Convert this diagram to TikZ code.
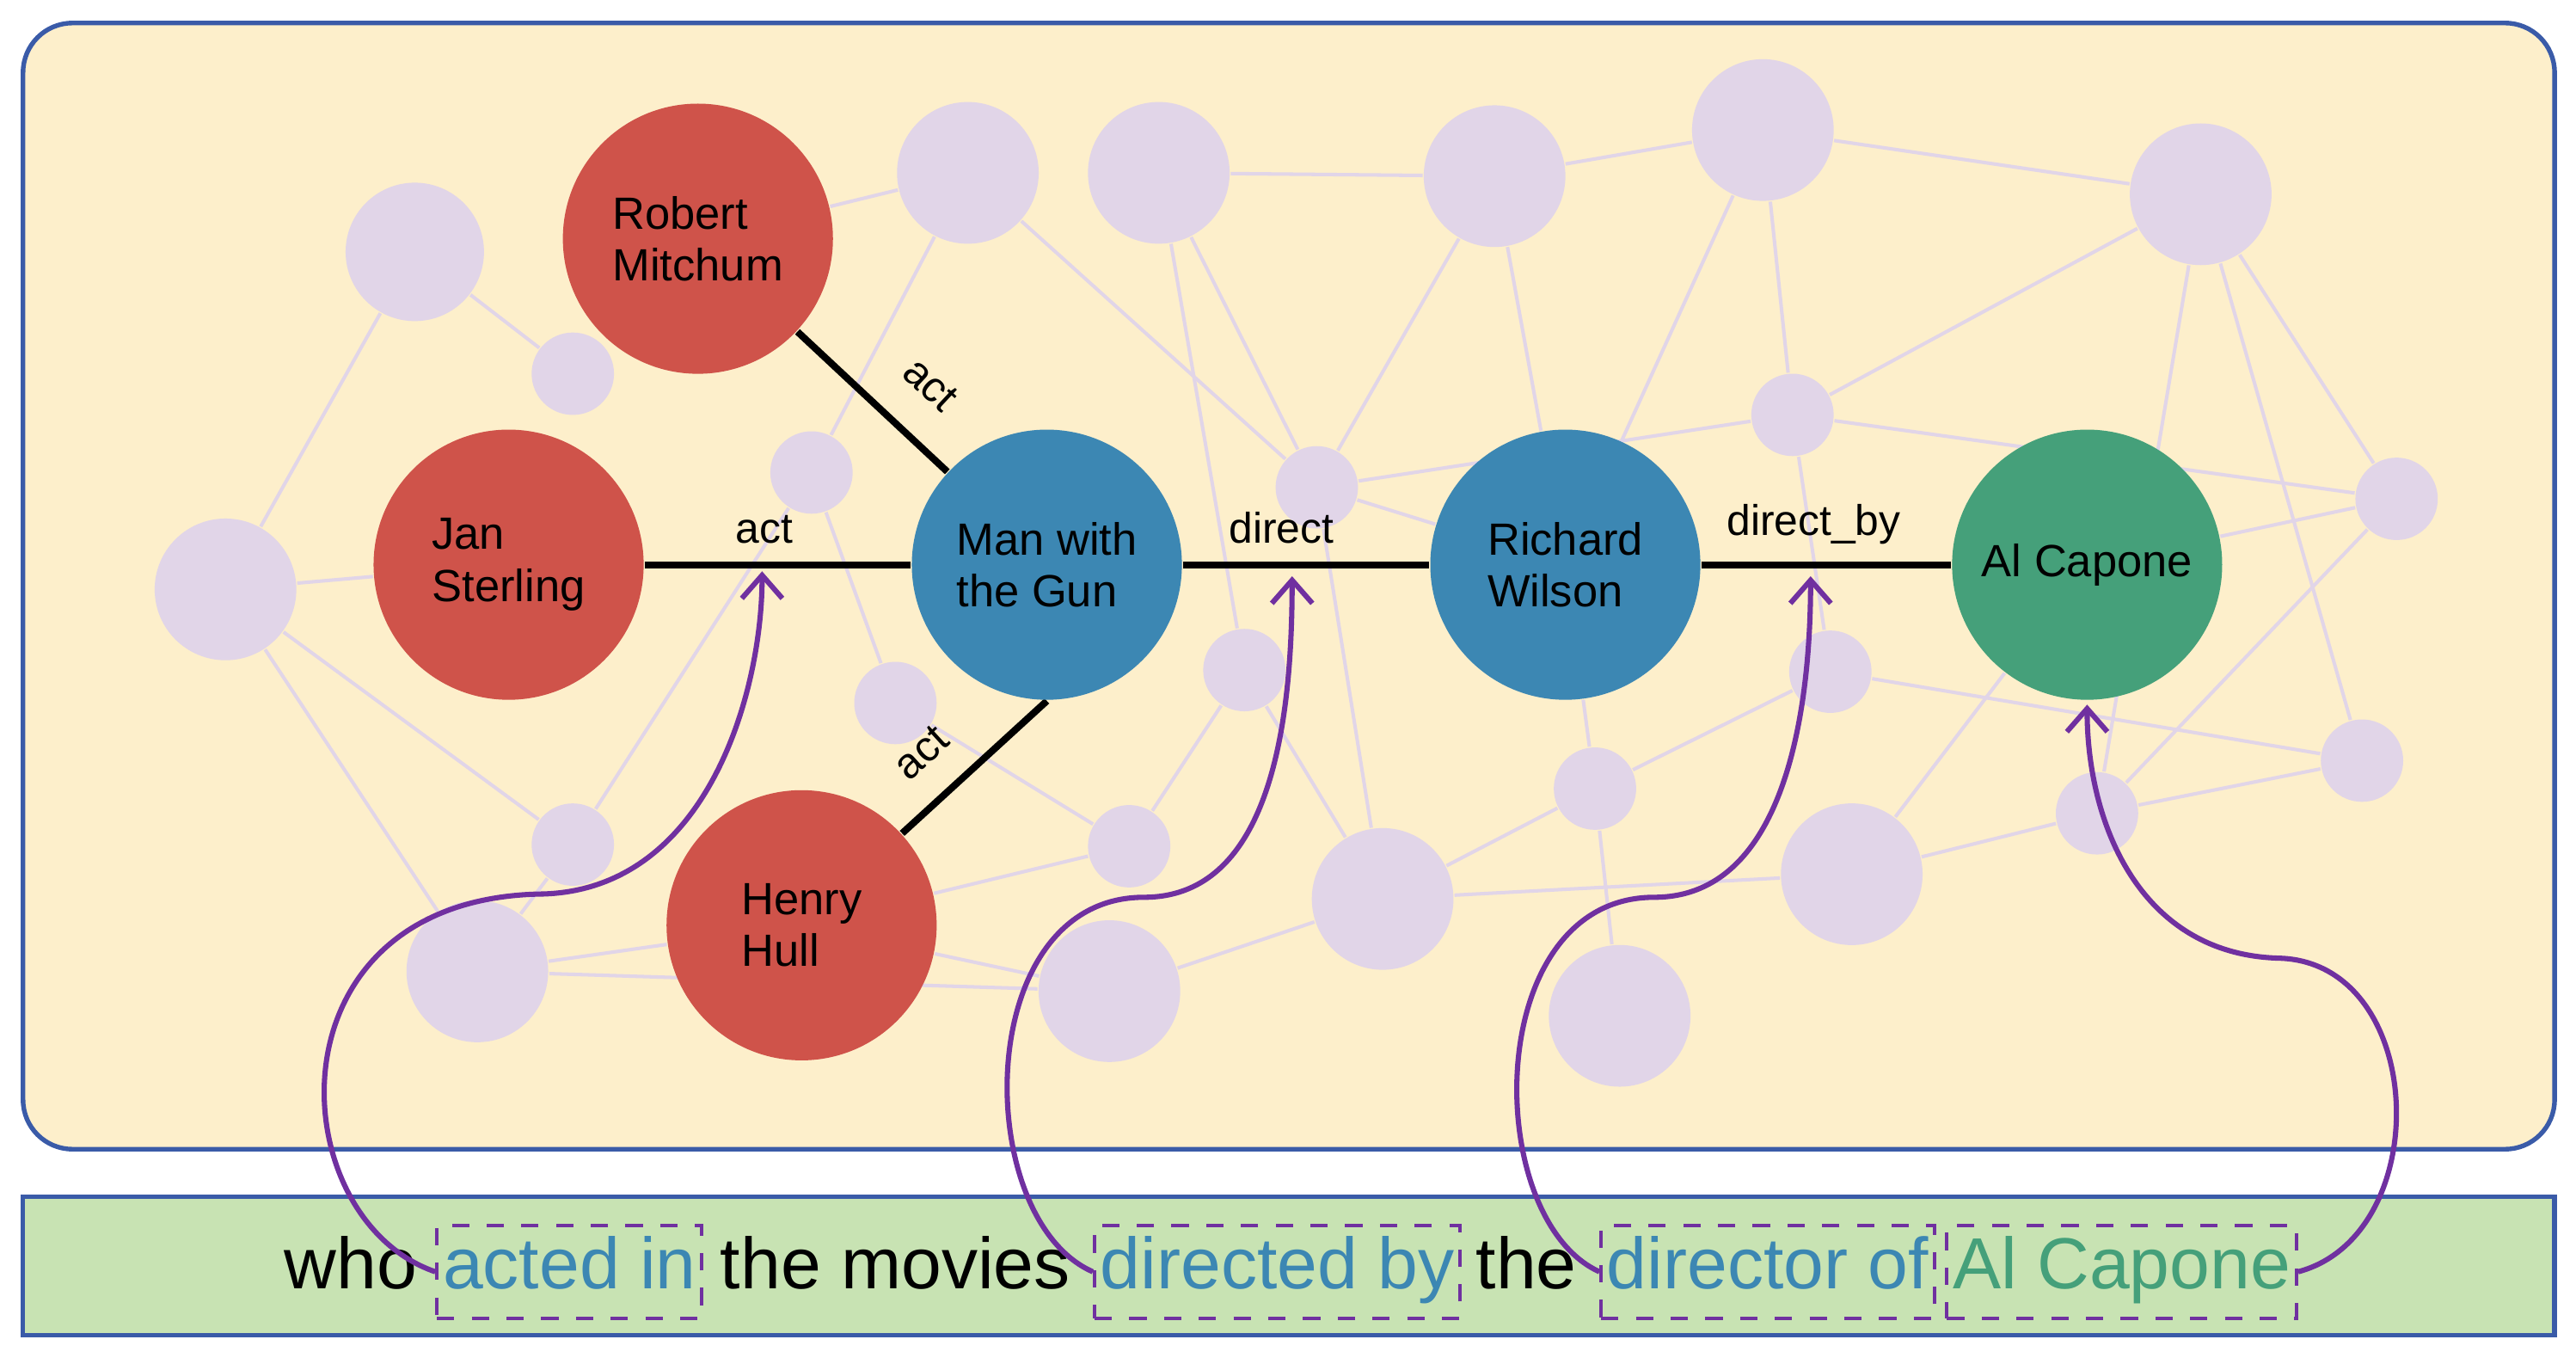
\documentclass[tikz,border=0pt]{standalone}
\usepackage{fontspec}
\setmainfont{Liberation Sans}
\usetikzlibrary{arrows.meta}
\definecolor{bgy}{HTML}{FDEFCB}
\definecolor{bord}{HTML}{3A5BA8}
\definecolor{band}{HTML}{C8E3B3}
\definecolor{lav}{HTML}{E1D5E8}
\definecolor{rd}{HTML}{CF534A}
\definecolor{bl}{HTML}{3C87B3}
\definecolor{gr}{HTML}{45A07A}
\definecolor{pu}{HTML}{7030A0}
\definecolor{txb}{HTML}{3C87B3}
\pgfdeclarelayer{panel}
\pgfdeclarelayer{bgedges}
\pgfdeclarelayer{circles}
\pgfdeclarelayer{kedges}
\pgfsetlayers{panel,bgedges,circles,kedges,main}
\begin{document}
\begin{tikzpicture}[x=0.01cm,y=-0.01cm,
 bgn/.style={circle,fill=lav,inner sep=0pt,minimum size=#1*0.02cm},
 bge/.style={draw=lav,line width=0.6pt},
 mn/.style={circle,fill=#1,inner sep=0pt,minimum size=1.64cm,align=left,font=\fontsize{7.8}{9}\selectfont},
 ke/.style={line width=1.2pt},
 lb/.style={font=\fontsize{7.4}{9}\selectfont,inner sep=1pt},
 qa/.style={draw=pu,line width=0.9pt,-{Straight Barb[length=4pt,width=7pt]}},
 wd/.style={font=\fontsize{12.5}{14}\selectfont,inner sep=0pt,anchor=base west},
 bx/.style={draw=pu,dashed,line width=0.6pt,anchor=base,text height=9.5pt,text depth=3.5pt,inner xsep=1pt,inner ysep=1.5pt,font=\fontsize{12.5}{14}\selectfont,text=txb}]
\useasboundingbox (0,0) rectangle (1565,828);
\begin{pgfonlayer}{panel}
\draw[bord,fill=bgy,line width=0.8pt,rounded corners=0.3cm] (14,14) rectangle (1552,698);
\draw[bord,fill=band,line width=0.8pt] (14,727) rectangle (1552,811);
\end{pgfonlayer}
\begin{pgfonlayer}{circles}
\foreach \n/\x/\y/\r in {a/252/153/42,b/348/227/25,c/137/358/43,d/493/287/25,e/588/105/43,f/704/105/43,g/908/107/43,h/1071/79/43,i/1337/118/43,j/800/296/25,k/1089/252/25,l/1456/303/25,m/544/427/25,n/756/407/25,o/1112/408/25,p/969/479/25,q/1435/462/25,r/348/513/25,s/686/514/25,t/840/546/43,u/1125/531/43,v/1274/494/25,w/290/590/43,y/674/602/43,z/984/617/43}
  \node[bgn=\r] (\n) at (\x,\y) {};
\end{pgfonlayer}
\node[mn=rd] (rob) at (424,145) {Robert\\Mitchum};
\node[mn=rd] (jan) at (309,343) {Jan\\Sterling};
\node[mn=rd] (hen) at (487,562) {Henry\\Hull};
\node[mn=bl] (man) at (636,343) {Man with\\the Gun};
\node[mn=bl] (ric) at (951,343) {Richard\\Wilson};
\node[mn=gr] (al) at (1268,343) {Al Capone};
\begin{pgfonlayer}{bgedges}
\foreach \u/\v in {a/b,a/c,c/jan,c/r,c/w,r/d,d/e,rob/e,e/j,f/n,f/j,f/g,g/j,g/ric,h/g,h/i,h/k,h/ric,k/j,k/l,k/i,k/o,i/v,i/l,l/al,l/v,q/i,q/v,o/q,o/p,p/t,p/z,p/ric,t/n,t/j,t/u,t/y,u/v,u/al,s/m,s/n,s/hen,y/w,w/hen,m/d,w/r,y/hen,j/ric}
  \draw[bge] (\u) -- (\v);
\end{pgfonlayer}
\begin{pgfonlayer}{kedges}
\draw[ke] (rob) -- node[lb,sloped,above=5pt,pos=0.65]{act} (man);
\draw[ke] (jan) -- node[lb,above=2pt,pos=0.45]{act} (man);
\draw[ke] (hen) -- node[lb,sloped,above=4pt,pos=0.35]{act} (man.south);
\draw[ke] (man) -- node[lb,above=2pt,pos=0.4]{direct} (ric);
\draw[ke] (ric) -- node[lb,above=2pt,pos=0.45]{direct\_by} (al);
\end{pgfonlayer}
\node[wd] (w1) at (172,783) {who};
\node[bx] (b1) at (346,783) {acted in};
\node[wd] (w2) at (437,783) {the movies};
\node[bx] (b2) at (776,783) {directed by};
\node[wd] (w3) at (896,783) {the};
\node[bx] (b3) at (1074,783) {director of};
\node[bx,text=gr] (b4) at (1289,783) {Al Capone};
\coordinate (t1) at (463,347);
\coordinate (t2) at (785,350);
\coordinate (t3) at (1100,350);
\coordinate (t4) at (1268,428);
\draw[qa] (b1.west) .. controls (170,740) and (160,545) .. (330,543) .. controls (430,540) and (463,420) .. (t1);
\draw[qa] (b2.west) .. controls (590,740) and (590,545) .. (695,545) .. controls (775,545) and (785,430) .. (t2);
\draw[qa] (b3.west) .. controls (900,740) and (900,545) .. (1005,545) .. controls (1085,545) and (1100,430) .. (t3);
\draw[qa] (b4.east) .. controls (1480,750) and (1475,585) .. (1385,582) .. controls (1300,580) and (1268,500) .. (t4);
\end{tikzpicture}
\end{document}
